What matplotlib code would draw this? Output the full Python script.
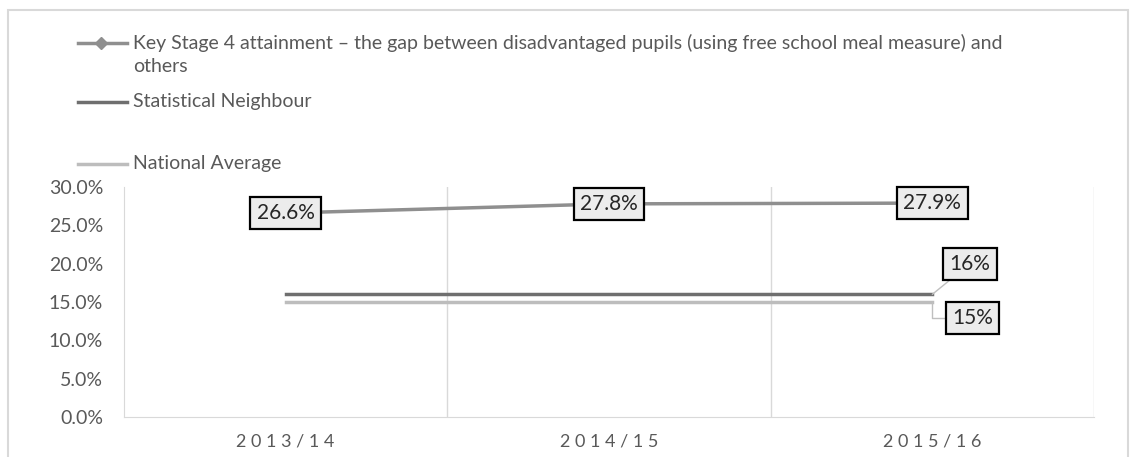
import matplotlib.pyplot as plt
from matplotlib.lines import Line2D
from matplotlib.patches import Rectangle
from matplotlib.ticker import FuncFormatter

plt.rcParams['font.family'] = ['Lato', 'DejaVu Sans']

years = ["2013/14", "2014/15", "2015/16"]
ks4_gap = [0.266, 0.278, 0.279]
stat_neighbour = [0.16, 0.16, 0.16]
national_avg = [0.15, 0.15, 0.15]
ks4_labels = ["26.6%", "27.8%", "27.9%"]
sn_label = "16%"
na_label = "15%"

legend_names = [
    ["Key Stage 4 attainment \u2013 the gap between disadvantaged pupils (using free school meal measure) and",
     "others"],
    ["Statistical Neighbour"],
    ["National Average"],
]

c_ks4 = "#8f8f8f"
c_sn = "#6f6f6f"
c_na = "#bdbdbd"
c_grid = "#d9d9d9"
c_txt = "#595959"

W, H = 1131, 457
fig = plt.figure(figsize=(W / 100, H / 100), dpi=100)
ax = fig.add_axes([124 / W, 1 - 417 / H, (1094 - 124) / W, (417 - 187) / H])

x = list(range(len(years)))
ax.plot(x, ks4_gap, color=c_ks4, lw=2.5, marker="D", ms=5, zorder=3)
ax.plot(x, stat_neighbour, color=c_sn, lw=2.5, zorder=3)
ax.plot(x, national_avg, color=c_na, lw=2.5, zorder=3)

box = dict(boxstyle="square,pad=0.3", fc="#ececec", ec="black", lw=1.6)
for xi, v, lab in zip(x, ks4_gap, ks4_labels):
    ax.annotate(lab, (xi, v), ha="center", va="center", fontsize=15,
                color="#262626", bbox=box, zorder=5)

ax.annotate(sn_label, (x[-1], stat_neighbour[-1]), xytext=(27, 22),
            textcoords="offset points", ha="center", va="center", fontsize=15,
            color="#262626", bbox=box, zorder=5,
            arrowprops=dict(arrowstyle="-", color="#bfbfbf", lw=1,
                            shrinkA=0, shrinkB=0))
ax.annotate(na_label, (x[-1], national_avg[-1]), xytext=(29, -11.5),
            textcoords="offset points", ha="center", va="center", fontsize=15,
            color="#262626", bbox=box, zorder=5,
            arrowprops=dict(arrowstyle="-", color="#bfbfbf", lw=1,
                            shrinkA=0, shrinkB=0,
                            connectionstyle="angle,angleA=0,angleB=90,rad=0"))

ax.set_xlim(-0.5, len(years) - 0.5)
ax.set_ylim(0, 0.30)
ax.set_yticks([i * 0.05 for i in range(7)])
ax.yaxis.set_major_formatter(FuncFormatter(lambda v, p: f"{v * 100:.1f}%"))
ax.set_xticks(x)
ax.set_xticklabels([" ".join(y) for y in years], fontsize=13, color=c_txt)
ax.tick_params(axis="y", labelsize=14, labelcolor=c_txt, length=0, pad=15)
ax.tick_params(axis="x", length=0, pad=12)

for b in [0.5, 1.5, 2.5]:
    ax.axvline(b, color=c_grid, lw=1, zorder=1)
for s in ["top", "right"]:
    ax.spines[s].set_visible(False)
ax.spines["left"].set_color(c_grid)
ax.spines["bottom"].set_color(c_grid)

# legend drawn above the plot, like the original
handles = [
    (43, dict(color=c_ks4, lw=2.5, marker="D", ms=6, markevery=[1])),
    (102, dict(color=c_sn, lw=2.5)),
    (164, dict(color=c_na, lw=2.5)),
]
for (yy, kw), lines in zip(handles, legend_names):
    yf = 1 - yy / H
    fig.add_artist(Line2D([78 / W, 101 / W, 127 / W], [yf, yf, yf], transform=fig.transFigure, **kw))
    for k, line in enumerate(lines):
        fig.text(133 / W, 1 - (yy + 24 * k) / H, line, ha="left", va="center",
                 fontsize=14, color=c_txt)

fig.add_artist(Rectangle((8 / W, -0.1), (1128 - 8) / W, 1.1 - 10 / H,
                         transform=fig.transFigure, fill=False, ec=c_grid, lw=1.5))

fig.savefig("out.png", dpi=100)
